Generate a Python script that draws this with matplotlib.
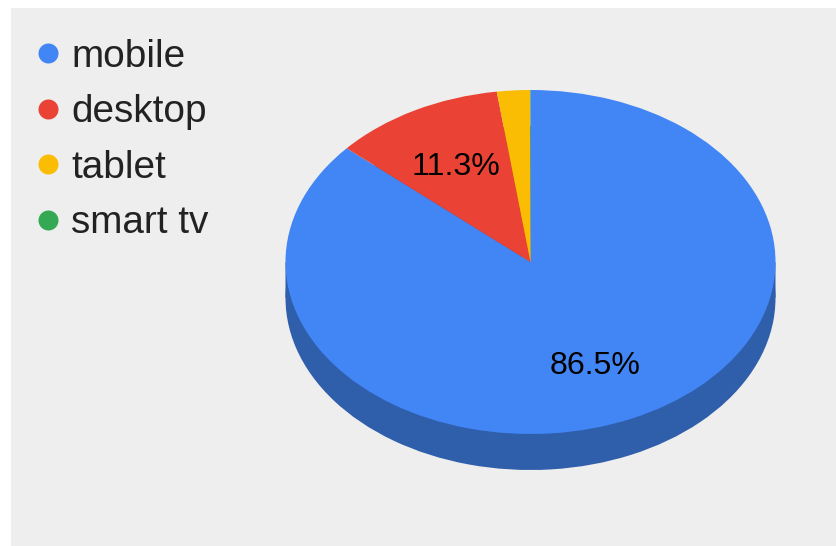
import matplotlib
matplotlib.use("Agg")
import matplotlib.pyplot as plt
from matplotlib.lines import Line2D
from matplotlib.patches import Rectangle

labels = ["mobile", "desktop", "tablet", "smart tv"]
values = [86.5, 11.3, 2.17, 0.03]
colors = ["#4285F4", "#EA4335", "#FBBC04", "#34A853"]
side_colors = ["#2F5EAB", "#A72F25", "#B18404", "#24763A"]

W, H = 836, 546
plt.rcParams["font.family"] = ["Liberation Sans", "DejaVu Sans"]


def show_pct(pct):
    return f"{pct:.1f}%" if pct > 5 else ""


fig = plt.figure(figsize=(W / 100, H / 100), dpi=100, facecolor="white")
fig.patches.append(Rectangle((11 / W, 0), 1, 1 - 8 / H, transform=fig.transFigure,
                             facecolor="#EEEEEE", edgecolor="none", zorder=-1))

# pie axes: -1..1 maps onto the ellipse of the top face
ax = fig.add_axes([285.5 / W, (H - 434) / H, 490 / W, 344 / H])
depth = 36 / 172

# side of the pie: lower copy plus a band joining it to the top face
ax.pie(values, colors=side_colors, startangle=90, counterclock=False,
       center=(0, -depth), wedgeprops={"linewidth": 0, "clip_on": False})
ax.add_patch(Rectangle((-1, -depth), 2, depth, facecolor=side_colors[0],
                       edgecolor="none", clip_on=False, snap=False))

wedges, texts, autotexts = ax.pie(values, colors=colors, startangle=90, counterclock=False,
                                  autopct=show_pct, pctdistance=0.645,
                                  wedgeprops={"linewidth": 0, "clip_on": False},
                                  textprops={"fontsize": 23.1, "color": "black"})
# nudge the percent labels down a little
for t in autotexts:
    t.set_y(t.get_position()[1] - 2.5 / 172)
ax.set_aspect("auto")
ax.set_xlim(-1, 1)
ax.set_ylim(-1, 1)

handles = [Line2D([], [], linestyle="none", marker="o", markersize=14.4,
                  markerfacecolor=c, markeredgecolor="none") for c in colors]
fig.legend(handles, labels, loc="upper left", bbox_to_anchor=(29 / W, 1 - 39 / H),
           frameon=False, fontsize=27.9, labelcolor="#222222", handlelength=1.0,
           handletextpad=0.09, labelspacing=0.5, borderpad=0, borderaxespad=0)

fig.savefig("out.png", dpi=100)
